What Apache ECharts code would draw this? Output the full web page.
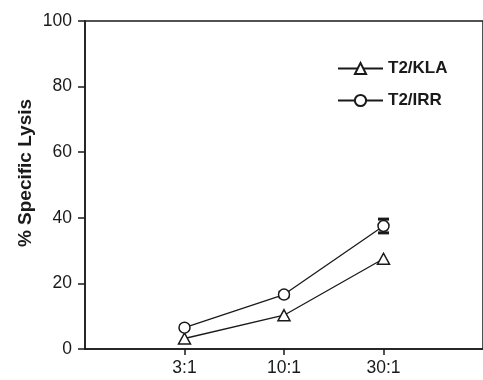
<!DOCTYPE html>
<html>
<head>
<meta charset="utf-8">
<script src="https://cdn.jsdelivr.net/npm/echarts@6/dist/echarts.min.js"></script>
<style>
  html, body { margin: 0; padding: 0; background: #fff; }
  #chart { width: 483px; height: 380px; }
</style>
</head>
<body>
<div id="chart"></div>
<script>
// Effector:target ratios on the x axis
const ratios = ['3:1', '10:1', '30:1'];
// % specific lysis for each target
const klaLysis = [3.2, 10.3, 27.5];
const irrLysis = [6.5, 16.6, 37.5];
// standard error for T2/IRR
const irrError = [0.5, 0.7, 2.1];
const yTicks = [0, 20, 40, 60, 80, 100];

const FONT = "'Liberation Sans', Arial, sans-serif";
const INK = '#1a1a1a';

const toPoints = vals => vals.map((v, i) => [i + 1, v]);

const chart = echarts.init(document.getElementById('chart'), null, { renderer: 'canvas' });

chart.setOption({
  animation: false,
  backgroundColor: '#fff',
  grid: {
    left: 85, right: -7, top: 21, bottom: 31,
    show: true, borderColor: INK, borderWidth: 1.5, backgroundColor: 'transparent'
  },
  xAxis: {
    type: 'value', min: 0, max: 4, interval: 1,
    axisLine: { show: true, lineStyle: { color: INK, width: 1.5 } },
    axisTick: { show: true, length: 6, customValues: [1, 2, 3], lineStyle: { color: INK, width: 1.5 } },
    axisLabel: {
      customValues: [1, 2, 3],
      formatter: v => ratios[Math.round(v) - 1] || '',
      color: INK, fontFamily: FONT, fontSize: 17.5, margin: 10
    },
    splitLine: { show: false }
  },
  yAxis: {
    type: 'value', min: yTicks[0], max: yTicks[yTicks.length - 1], interval: 20,
    axisLine: { show: true, lineStyle: { color: INK, width: 1.5 } },
    axisTick: { show: true, length: 7, lineStyle: { color: INK, width: 1.5 } },
    axisLabel: { color: INK, fontFamily: FONT, fontSize: 17.5, margin: 13 },
    splitLine: { show: false }
  },
  legend: {
    orient: 'vertical', left: 332, top: 55,
    itemWidth: 45, itemHeight: 14, itemGap: 15,
    textStyle: { color: INK, fontFamily: FONT, fontSize: 17, fontWeight: 'bold' },
    data: ['T2/KLA', 'T2/IRR']
  },
  graphic: [{
    type: 'text', x: 26, y: 173, rotation: Math.PI / 2,
    style: {
      text: '% Specific Lysis', fill: INK,
      font: 'bold 19px ' + FONT, textAlign: 'center', textVerticalAlign: 'middle'
    }
  }],
  series: [
    {
      name: 'T2/KLA', type: 'line', data: toPoints(klaLysis),
      symbol: 'triangle', symbolSize: [12, 11],
      lineStyle: { color: INK, width: 1.3 },
      itemStyle: { color: '#fff', borderColor: INK, borderWidth: 1.5 },
      z: 3
    },
    {
      name: 'irr-error', type: 'custom',
      data: irrLysis.map((v, i) => [i + 1, v - irrError[i], v + irrError[i]]),
      renderItem: (params, api) => {
        const lo = api.coord([api.value(0), api.value(1)]);
        const hi = api.coord([api.value(0), api.value(2)]);
        const w = 5.5;
        const cap = { stroke: INK, lineWidth: 3 };
        return {
          type: 'group',
          children: [
            { type: 'line', shape: { x1: lo[0], y1: lo[1], x2: hi[0], y2: hi[1] }, style: { stroke: INK, lineWidth: 1.5 } },
            { type: 'line', shape: { x1: lo[0] - w, y1: lo[1], x2: lo[0] + w, y2: lo[1] }, style: cap },
            { type: 'line', shape: { x1: hi[0] - w, y1: hi[1], x2: hi[0] + w, y2: hi[1] }, style: cap }
          ]
        };
      },
      z: 4
    },
    {
      name: 'T2/IRR', type: 'line', data: toPoints(irrLysis),
      symbol: 'circle', symbolSize: 11,
      lineStyle: { color: INK, width: 1.3 },
      itemStyle: { color: '#fff', borderColor: INK, borderWidth: 1.5 },
      z: 5
    }
  ]
});
</script>
</body>
</html>
